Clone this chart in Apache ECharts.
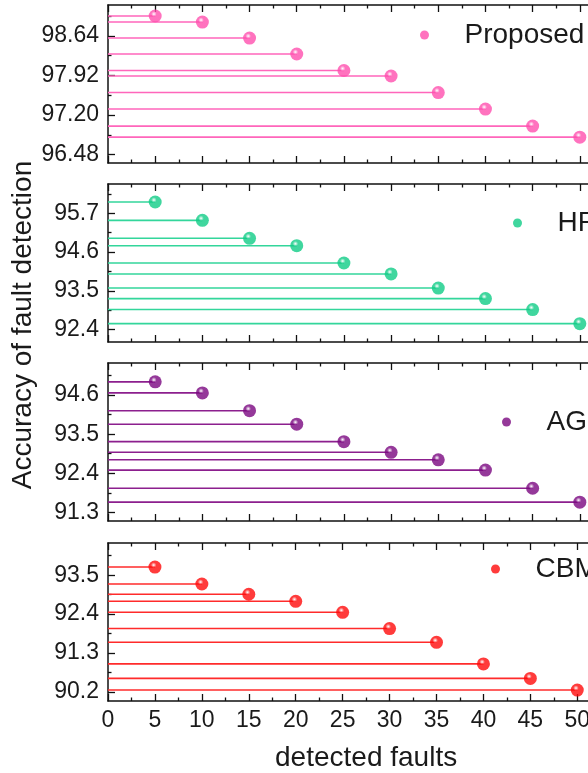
<!DOCTYPE html>
<html>
<head>
<meta charset="utf-8">
<style>
  html, body { margin: 0; padding: 0; background: #fff; overflow: hidden; }
  #main { width: 640px; height: 773px; }
</style>
<script src="https://cdn.jsdelivr.net/npm/echarts@6/dist/echarts.min.js"></script>
</head>
<body>
<div id="main"></div>
<script>
const faults = [5, 10, 15, 20, 25, 30, 35, 40, 45, 50]
const proposed = [99.00, 98.89, 98.60, 98.31, 98.01, 97.91, 97.61, 97.31, 97.00, 96.80]
const hp = [96.02, 95.50, 94.99, 94.78, 94.29, 93.98, 93.58, 93.28, 92.97, 92.57]
const ag = [94.97, 94.66, 94.16, 93.78, 93.29, 92.99, 92.78, 92.49, 91.98, 91.59]
const cbm = [93.73, 93.25, 92.96, 92.76, 92.45, 91.99, 91.60, 90.99, 90.58, 90.25]

const proposedTicks = [96.48, 97.20, 97.92, 98.64]
const hpTicks = [92.4, 93.5, 94.6, 95.7]
const agTicks = [91.3, 92.4, 93.5, 94.6]
const cbmTicks = [90.2, 91.3, 92.4, 93.5]

const FONT = '"Liberation Sans", Arial, sans-serif'
const INK = '#1a1a1a'

// the source figure is cropped on the right, so the canvas is wider than the window
const panels = [
  { name: 'Proposed', values: proposed, ticks: proposedTicks, digits: 2, range: [96.33, 99.2],
    color: '#ff4fae', line: '#ff66bb', top: 5, legend: [420, 21] },
  { name: 'HPO', values: hp, ticks: hpTicks, digits: 1, range: [92.05, 96.53],
    color: '#10cc86', line: '#33d69b', top: 184, legend: [513, 209] },
  { name: 'AGO', values: ag, ticks: agTicks, digits: 1, range: [91.06, 95.50],
    color: '#7a0780', line: '#8c1f8e', top: 363, legend: [502, 408] },
  { name: 'CBM', values: cbm, ticks: cbmTicks, digits: 1, range: [89.94, 94.41],
    color: '#ff0a0a', line: '#ff2b2b', top: 543, legend: [491, 555] }
]

function minorValues(ticks, range) {
  const step = ticks[1] - ticks[0]
  const out = []
  for (let i = -1; i < ticks.length + 1; i++) {
    const v = +(ticks[0] + step * (i + 0.5)).toFixed(3)
    if (v > range[0] && v < range[1]) out.push(v)
  }
  return out
}

function sphere(c) {
  return {
    type: 'radial', x: 0.4, y: 0.35, r: 0.7,
    colorStops: [{ offset: 0, color: '#ffffff' }, { offset: 0.3, color: c }, { offset: 1, color: c }]
  }
}

function stemItem(params, api) {
  const a = api.coord([0, api.value(1)])
  const b = api.coord([api.value(0), api.value(1)])
  return {
    type: 'line',
    shape: { x1: a[0], y1: a[1], x2: b[0], y2: b[1] },
    style: { stroke: api.visual('color'), lineWidth: 1.6 }
  }
}

const grid = [], xAxis = [], yAxis = [], series = [], legend = []
const axisLine = { show: true, onZero: false, lineStyle: { color: '#111', width: 1.5 } }

panels.forEach(function (p, i) {
  const last = i === panels.length - 1
  grid.push({ left: 108, right: 13, top: p.top, height: 158 })
  const xBase = {
    type: 'value', gridIndex: i, min: 0, max: 55, interval: 5,
    axisLine: axisLine, splitLine: { show: false },
    axisTick: { inside: true, length: 7, lineStyle: { color: '#111', width: 1.3 } },
    minorTick: { show: true, splitNumber: 2, length: 3.5, lineStyle: { color: '#111', width: 1.3 } }
  }
  xAxis.push(Object.assign({}, xBase, {
    position: 'bottom',
    axisLabel: { show: last, fontSize: 23, color: INK, fontFamily: FONT, margin: 8 },
    name: last ? 'detected faults' : '',
    nameLocation: 'middle', nameGap: 43,
    nameTextStyle: { fontSize: 28, color: INK, fontFamily: FONT }
  }))
  xAxis.push(Object.assign({}, xBase, { position: 'top', axisLabel: { show: false } }))

  yAxis.push({
    type: 'value', gridIndex: i, position: 'left', min: p.range[0], max: p.range[1],
    axisLine: axisLine, splitLine: { show: false },
    axisTick: { inside: true, length: 7, customValues: p.ticks, lineStyle: { color: '#111', width: 1.3 } },
    axisLabel: {
      customValues: p.ticks, fontSize: 23, color: INK, fontFamily: FONT, margin: 9,
      formatter: function (v) { return v.toFixed(p.digits) }
    }
  })
  yAxis.push({
    type: 'value', gridIndex: i, position: 'left', min: p.range[0], max: p.range[1],
    axisLine: { show: false }, splitLine: { show: false }, axisLabel: { show: false },
    axisTick: { inside: true, length: 3.5, customValues: minorValues(p.ticks, p.range), lineStyle: { color: '#111', width: 1.3 } }
  })

  const data = faults.map(function (f, k) { return [f, p.values[k]] })
  series.push({
    type: 'custom', name: p.name + ' stem', xAxisIndex: 2 * i, yAxisIndex: 2 * i,
    renderItem: stemItem, data: data, itemStyle: { color: p.line }, silent: true, z: 2
  })
  series.push({
    type: 'scatter', name: p.name, xAxisIndex: 2 * i, yAxisIndex: 2 * i,
    symbol: 'circle', symbolSize: 13, data: data, z: 3,
    itemStyle: { color: sphere(p.color) }
  })
  legend.push({
    data: [p.name], left: p.legend[0], top: p.legend[1], padding: 0,
    itemWidth: 70, itemHeight: 9, icon: 'circle', selectedMode: false,
    itemStyle: { color: p.color },
    textStyle: { fontSize: 28, color: INK, fontFamily: FONT }
  })
})

const chart = echarts.init(document.getElementById('main'), null, { renderer: 'canvas' })
chart.setOption({
  animation: false,
  backgroundColor: '#fff',
  grid: grid,
  xAxis: xAxis,
  yAxis: yAxis,
  legend: legend,
  series: series,
  graphic: [{
    type: 'text', x: 23, y: 325, rotation: Math.PI / 2,
    style: {
      text: 'Accuracy of fault detection', fill: INK, font: '28px ' + FONT,
      align: 'center', verticalAlign: 'middle'
    }
  }]
})
</script>
</body>
</html>
